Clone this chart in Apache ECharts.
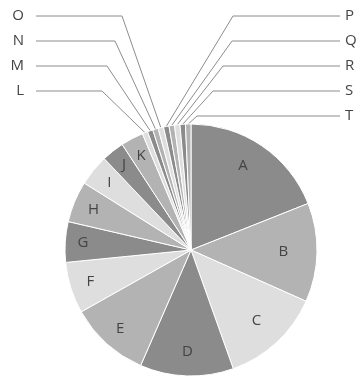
<!DOCTYPE html>
<html>
<head>
<meta charset="utf-8">
<script src="https://cdn.jsdelivr.net/npm/echarts@6/dist/echarts.min.js"></script>
<style>
  html, body { margin: 0; padding: 0; background: #fff; }
  #chart { width: 360px; height: 378px; }
</style>
</head>
<body>
<div id="chart"></div>
<script>
// data (share of the whole, %)
var categories = ['A','B','C','D','E','F','G','H','I','J','K','L','M','N','O','P','Q','R','S','T'];
var values = [19.0, 12.7, 12.9, 12.0, 10.3, 6.6, 5.2, 5.3, 4.0, 2.9, 2.9,
              0.7, 0.7, 0.7, 0.7, 0.7, 0.7, 0.7, 0.7, 0.7];
var shades = ['#8b8b8b', '#b3b3b3', '#dedede'];

// layout only
var insideCount = 11;
var insideRadius = [0.77, 0.70, 0.73, 0.77, 0.80, 0.80, 0.82, 0.80, 0.80, 0.82, 0.81];
var leftLabels = ['L','M','N','O'];
var labelRows = [91, 66, 41, 16, 16, 41, 66, 91, 116];   // L..T
var bendX = [102, 107, 115, 122, 233, 232, 223, 213, 197];
var cx = 191, cy = 250, R = 126;

var myChart = echarts.init(document.getElementById('chart'));

var pieData = [];
for (var i = 0; i < categories.length; i++) {
    var inside = i < insideCount;
    pieData.push({
        name: categories[i],
        value: values[i],
        itemStyle: { color: shades[i % 3] },
        label: { position: inside ? 'inside' : 'outside' },
        labelLine: { show: !inside }
    });
}

var option = {
    animation: false,
    series: [
        {
            type: 'pie',
            center: [cx, cy],
            radius: [0, R],
            startAngle: 90,
            clockwise: true,
            avoidLabelOverlap: false,
            itemStyle: { borderColor: '#fff', borderWidth: 1 },
            label: {
                show: true,
                formatter: '{b}',
                color: '#444',
                fontFamily: 'Open Sans',
                fontSize: 15
            },
            labelLine: {
                show: true,
                length: 10,
                length2: 10,
                lineStyle: { color: '#8c8c8c', width: 1 }
            },
            labelLayout: function (params) {
                var idx = params.dataIndex;
                var r = params.labelRect;
                if (idx < insideCount) {
                    var lx = r.x + r.width / 2, ly = r.y + r.height / 2;
                    var f = insideRadius[idx] / 0.5;
                    return {
                        x: cx + (lx - cx) * f + (idx === 0 ? -5 : 0),
                        y: cy + (ly - cy) * f,
                        align: 'center',
                        verticalAlign: 'middle'
                    };
                }
                var k = idx - insideCount;
                var isLeft = leftLabels.indexOf(categories[idx]) >= 0;
                var start = params.labelLinePoints ? params.labelLinePoints[0] : [cx, cy - R];
                var y = labelRows[k];
                var endX = isLeft ? 36 : 340;
                return {
                    x: isLeft ? 24 : 345,
                    y: y,
                    align: isLeft ? 'right' : 'left',
                    verticalAlign: 'middle',
                    labelLinePoints: [start, [bendX[k], y], [endX, y]]
                };
            },
            data: pieData
        }
    ]
};
myChart.setOption(option);
</script>
</body>
</html>
